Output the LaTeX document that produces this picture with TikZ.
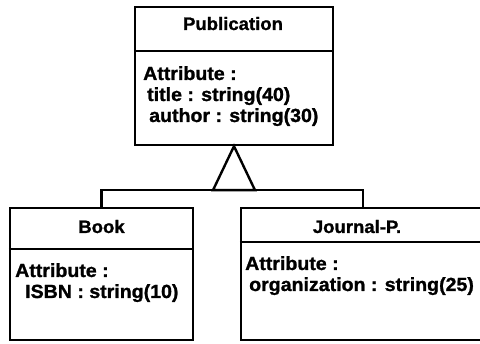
\documentclass[tikz,border=0pt]{standalone}
\usepackage{fontspec}
\setmainfont{Liberation Sans}[FakeStretch=1.03, FakeBold=1.2]
\usetikzlibrary{calc}
\begin{document}
\begin{tikzpicture}[x=1pt,y=-1pt,
  classbox/.style={draw, line width=2.4pt, inner sep=0pt},
  txt/.style={inner sep=0pt, font=\fontsize{19}{22}\selectfont\bfseries},
  ttl/.style={inner sep=0pt, font=\fontsize{18}{21}\selectfont\bfseries},
  edge/.style={line width=2.4pt, line join=miter}]
\useasboundingbox (0,0) rectangle (480,344);
\clip (0,0) rectangle (480,344);

% superclass
\node[classbox, minimum width=198pt, minimum height=138pt] (pub) at (234,76) {};
\draw[edge] ($(pub.north west)+(0,45)$) -- ($(pub.north east)+(0,45)$);
\node[ttl, anchor=base] (pubname) at (233,30) {Publication};
\node[txt, anchor=base west] (pubattr) at (143,80) {Attribute :};
\node[txt, anchor=base west] (pubtitle) at (147,101) {title : string(40)};
\node[txt, anchor=base west] (pubauthor) at (149,122) {author : string(30)};

% subclasses
\node[classbox, minimum width=183pt, minimum height=132pt] (book) at (101.5,274) {};
\draw[edge] ($(book.north west)+(0,42)$) -- ($(book.north east)+(0,42)$);
\node[ttl, anchor=base] (bookname) at (101.5,233) {Book};
\node[txt, anchor=base west] (bookattr) at (15,277) {Attribute :};
\node[txt, anchor=base west] (bookisbn) at (25,298) {ISBN : string(10)};

\node[classbox, minimum width=244pt, minimum height=132pt] (jour) at (363,274) {};
\draw[edge] ($(jour.north west)+(0,35)$) -- ($(jour.north east)+(0,35)$);
\node[ttl, anchor=base] (journame) at (357,233) {Journal-P.};
\node[txt, anchor=base west] (jourattr) at (245,270) {Attribute :};
\node[txt, anchor=base west] (jourorg) at (249,291) {organization : string(25)};

% generalization
\draw[edge] (pub.south) -- ++(-21,44) coordinate (tl) -- ++(42,0) coordinate (tr) -- cycle;
\coordinate (tb) at ($(tl)!0.5!(tr)$);
\draw[edge] (book.north) |- (tb) -| (jour.north);
\end{tikzpicture}
\end{document}
